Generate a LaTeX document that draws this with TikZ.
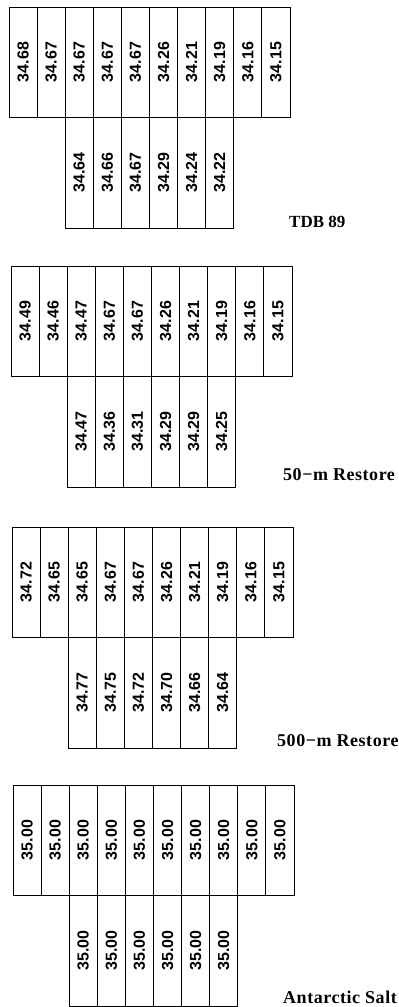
\documentclass[tikz,border=0pt]{standalone}
\usepackage{fontspec}
\setmainfont{Liberation Serif}
\newfontfamily\numfont{Liberation Sans}
\usetikzlibrary{positioning}
\newcommand{\saltpanel}[5]{% name, left, top, upper values, lower values
  \foreach \v [count=\i from 0] in {#4}
    \node[toprow] (#1t\i) at ({#2+28.1*\i},{-#3}) {\rotatebox{90}{\v}};
  \foreach \v [count=\i from 2] in {#5}
    \node[botrow] (#1b\i) at ({#2+28.1*\i},{-#3-110}) {\rotatebox{90}{\v}};
}

\begin{document}
\begin{tikzpicture}[x=1pt,y=1pt,
cell/.style={draw,line width=.9pt,minimum width=28.1pt,inner sep=0pt,outer sep=0pt,
  font=\numfont\bfseries\fontsize{16}{17}\selectfont},
toprow/.style={cell,minimum height=110pt,anchor=north west},
botrow/.style={cell,minimum height=111pt,anchor=north west},
tag/.style={font=\bfseries\fontsize{17}{18}\selectfont,anchor=base west,inner sep=0pt},
widetag/.style={tag,font=\bfseries\fontsize{18}{19}\selectfont\addfontfeature{LetterSpace=3}}]
\useasboundingbox(0,0)rectangle(399,-1007);

\saltpanel{tdb}{9}{7}{34.68,34.67,34.67,34.67,34.67,34.26,34.21,34.19,34.16,34.15}{34.64,34.66,34.67,34.29,34.24,34.22}
\node[tag] (tdblab) at(289,-227){TDB 89};

\saltpanel{fif}{11}{266}{34.49,34.46,34.47,34.67,34.67,34.26,34.21,34.19,34.16,34.15}{34.47,34.36,34.31,34.29,34.29,34.25}
\node[widetag] (fiflab) at(283,-480){50−m Restore};

\saltpanel{fiv}{12}{527}{34.72,34.65,34.65,34.67,34.67,34.26,34.21,34.19,34.16,34.15}{34.77,34.75,34.72,34.70,34.66,34.64}
\node[widetag] (fivlab) at(277,-746){500−m Restore};

\saltpanel{ant}{13}{785}{35.00,35.00,35.00,35.00,35.00,35.00,35.00,35.00,35.00,35.00}{35.00,35.00,35.00,35.00,35.00,35.00}
\node[widetag] (antlab) at(283,-1003){Antarctic Salt};
\end{tikzpicture}
\end{document}
